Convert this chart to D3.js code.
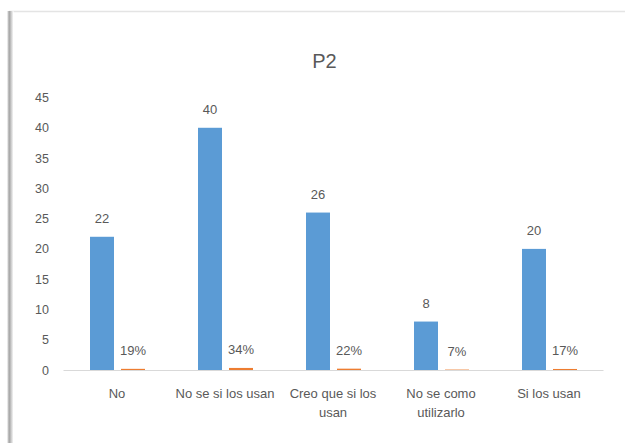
<!DOCTYPE html>
<html>
<head>
<meta charset="utf-8">
<script src="https://cdn.jsdelivr.net/npm/d3@7/dist/d3.min.js"></script>
<style>
  html, body { margin: 0; padding: 0; background: #ffffff; }
  svg { display: block; }
  text { font-family: "Liberation Sans", Arial, sans-serif; fill: #595959; }
</style>
</head>
<body>
<svg id="chart" width="625" height="443"></svg>
<script>
// Survey question P2: answer counts and their share of responses
const title = "P2";
const categories = ["No", "No se si los usan", "Creo que si los usan", "No se como utilizarlo", "Si los usan"];
const counts = [22, 40, 26, 8, 20];
const shares = [0.19, 0.34, 0.22, 0.07, 0.17];
const yTicks = [0, 5, 10, 15, 20, 25, 30, 35, 40, 45];

const W = 625, H = 443;
const margin = { top: 97.5, right: 22, bottom: 73, left: 63 };
const svg = d3.select("#chart");

// card background with a soft left shadow and a thin top edge
const defs = svg.append("defs");
const grad = defs.append("linearGradient").attr("id", "leftShade").attr("x1", 0).attr("x2", 1);
grad.append("stop").attr("offset", "0%").attr("stop-color", "#d0d0d0");
grad.append("stop").attr("offset", "35%").attr("stop-color", "#a8a8a8");
grad.append("stop").attr("offset", "100%").attr("stop-color", "#ffffff");
svg.append("rect").attr("x", 0).attr("y", 0).attr("width", W).attr("height", H).attr("fill", "#ffffff");
svg.append("line").attr("x1", 9).attr("x2", W).attr("y1", 11.5).attr("y2", 11.5)
  .attr("stroke", "#e4e4e4").attr("stroke-width", 1.5);
svg.append("rect").attr("x", 7.5).attr("y", 11).attr("width", 6).attr("height", H - 11)
  .attr("fill", "url(#leftShade)");

const x = d3.scaleBand().domain(categories)
  .range([margin.left, W - margin.right]).paddingInner(0).paddingOuter(0);
const inner = d3.scaleBand().domain([0, 1]).range([0, 55]).paddingInner(0.226).paddingOuter(0);
const y = d3.scaleLinear().domain([0, 45]).range([H - margin.bottom, margin.top]);
const groupOffset = cat => x(cat) + x.bandwidth() / 2 - 27;

const series = [
  { key: 0, values: counts, color: "#5B9BD5", fmt: d => d3.format("d")(d) },
  { key: 1, values: shares, color: "#ED7D31", fmt: d => d3.format(".0%")(d) }
];

// title
svg.append("text").attr("x", 324.5).attr("y", 67.5).attr("text-anchor", "middle")
  .style("font-size", "20px").text(title);

// y axis labels (no axis line or gridlines)
const yAxis = d3.axisLeft(y).tickValues(yTicks).tickSize(0).tickPadding(0);
const yg = svg.append("g").attr("transform", `translate(${margin.left - 14},0)`).call(yAxis);
yg.select(".domain").remove();
yg.selectAll("text").style("font-size", "12.5px").style("font-family", "Liberation Sans, Arial, sans-serif")
  .attr("fill", "#595959");

// bars
series.forEach(s => {
  svg.append("g").selectAll("rect").data(categories).join("rect")
    .attr("x", (c) => groupOffset(c) + inner(s.key))
    .attr("width", inner.bandwidth())
    .attr("y", (c, i) => y(s.values[i]))
    .attr("height", (c, i) => y(0) - y(s.values[i]))
    .attr("fill", s.color);
});

// baseline axis with category labels
const xAxis = d3.axisBottom(x).tickSize(0).tickPadding(0);
const xg = svg.append("g").attr("transform", `translate(0,${y(0)})`).call(xAxis);
xg.select(".domain").attr("stroke", "#d9d9d9").attr("stroke-width", 1.2);
xg.selectAll(".tick text").remove();
xg.selectAll(".tick").each(function (c) {
  const t = d3.select(this).append("text")
    .attr("text-anchor", "middle").attr("y", 28)
    .style("font-size", "13px").attr("fill", "#595959");
  const words = c.split(" ");
  const maxW = 104;
  let line = [], lineNo = 0;
  let tspan = t.append("tspan").attr("x", 0).attr("dy", 0);
  words.forEach(w => {
    line.push(w);
    tspan.text(line.join(" "));
    if (tspan.node().getComputedTextLength() > maxW && line.length > 1) {
      line.pop();
      tspan.text(line.join(" "));
      line = [w];
      lineNo++;
      tspan = t.append("tspan").attr("x", 0).attr("dy", 19).text(w);
    }
  });
});

// value labels above each bar
series.forEach(s => {
  svg.append("g").selectAll("text").data(categories).join("text")
    .attr("x", c => groupOffset(c) + inner(s.key) + inner.bandwidth() / 2)
    .attr("y", (c, i) => y(s.values[i]) - 13.5)
    .attr("text-anchor", "middle")
    .style("font-size", "13px")
    .text((c, i) => s.fmt(s.values[i]));
});
</script>
</body>
</html>
